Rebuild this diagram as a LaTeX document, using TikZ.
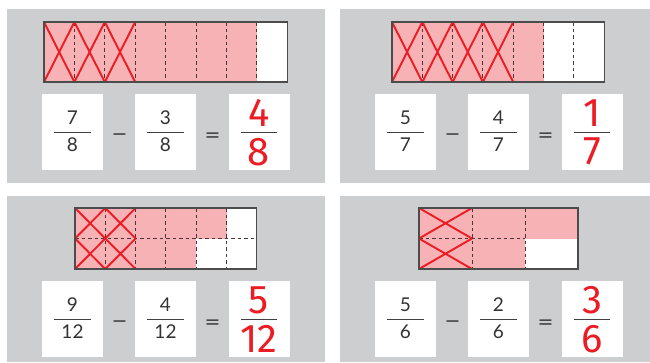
\documentclass[tikz,border=0pt]{standalone}
\usepackage{fontspec}
\setmainfont{Lato}
\newfontfamily\handfont{Fira Sans}
\newfontfamily\symfont{DejaVu Sans}
\usepackage{tikz}
\definecolor{panelgray}{HTML}{CDCED0}
\definecolor{shade}{HTML}{F7B2B5}
\definecolor{markred}{HTML}{EC1C24}
\definecolor{divline}{HTML}{4E3436}
\tikzset{
  panel/.style={fill=panelgray},
  card/.style={rectangle, fill=white, minimum width=61pt, minimum height=76pt, inner sep=0pt},
  bar/.style={fill=shade},
  divider/.style={draw=divline, line width=0.9pt, dash pattern=on 3.5pt off 3pt},
  cross/.style={draw=markred, line width=1.9pt},
  outline/.style={draw=black!70, line width=1.1pt},
  digit/.style={inner sep=0pt, font=\fontsize{19}{19}\selectfont, text=black!80},
  answer/.style={inner sep=0pt, font=\handfont\fontsize{40}{40}\selectfont, text=markred},
  fracline/.style={draw=black!75, line width=0.8pt},
  op/.style={inner sep=0pt, font=\symfont\fontsize{19}{19}\selectfont, text=black!75},
}

\begin{document}
\begin{tikzpicture}[x=1pt, y=-1pt]
\useasboundingbox (0,0) rectangle (650,362);
% ---- panels with the three cards ----
\foreach \px/\py/\pw/\ph/\na/\nb/\nc/\den [count=\i] in
  {7/9/318/174/7/3/4/8, 340/9/310/174/5/4/1/7, 7/196/318/166/9/4/5/12, 340/196/310/166/5/2/3/6}{
  \begin{scope}[shift={(\px,\py)}]
  \fill[panel] (0,0) rectangle (\pw,\ph);
  \node[card] (c\i-a) at (65.5,123) {};
  \node[card] (c\i-b) at (158.5,123) {};
  \node[card] (c\i-c) at (252,123) {};
  \node[op] (m\i) at (112.5,128) {−};
  \node[op] (e\i) at (205.5,128) {=};
  % first fraction
  \node[digit, anchor=south] (n\i-a) at ([yshift=7pt]c\i-a.center) {\na};
  \node[digit, anchor=north] (d\i-a) at ([yshift=-6pt]c\i-a.center) {\den};
  \draw[fracline] ([xshift=-18.5pt]c\i-a.center) -- ([xshift=18.5pt]c\i-a.center);
  % second fraction
  \node[digit, anchor=south] (n\i-b) at ([yshift=7pt]c\i-b.center) {\nb};
  \node[digit, anchor=north] (d\i-b) at ([yshift=-6pt]c\i-b.center) {\den};
  \draw[fracline] ([xshift=-18.5pt]c\i-b.center) -- ([xshift=18.5pt]c\i-b.center);
  % answer
  \node[answer, anchor=south] (n\i-c) at ([yshift=5pt]c\i-c.center) {\nc};
  \node[answer, anchor=north] (d\i-c) at ([yshift=-6pt]c\i-c.center) {\den};
  \draw[fracline] ([xshift=-18pt]c\i-c.center) -- ([xshift=18pt]c\i-c.center);
  \end{scope}
}
% ---- bar 1: eighths ----
\begin{scope}[shift={(44,22)}]
\def\w{30.4}
\fill[white] (0,0) rectangle (8*\w,60);
\fill[bar] (0,0) rectangle (7*\w,60);
\foreach \k in {1,...,7} \draw[divider] (\k*\w,0) -- (\k*\w,60);
\foreach \k in {0,1,2} \draw[cross] (\k*\w,0) -- ({(\k+1)*\w},60) ({(\k+1)*\w},0) -- (\k*\w,60);
\draw[outline] (0,0) rectangle (8*\w,60);
\end{scope}
% ---- bar 2: sevenths ----
\begin{scope}[shift={(392,22)}]
\def\w{30.3}
\fill[white] (0,0) rectangle (7*\w,60);
\fill[bar] (0,0) rectangle (5*\w,60);
\foreach \k in {1,...,6} \draw[divider] (\k*\w,0) -- (\k*\w,60);
\foreach \k in {0,...,3} \draw[cross] (\k*\w,0) -- ({(\k+1)*\w},60) ({(\k+1)*\w},0) -- (\k*\w,60);
\draw[outline] (0,0) rectangle (7*\w,60);
\end{scope}
% ---- bar 3: twelfths ----
\begin{scope}[shift={(75,208)}]
\def\w{30.3}
\def\h{30.5}
\fill[white] (0,0) rectangle (6*\w,2*\h);
\fill[bar] (0,0) rectangle (5*\w,\h);
\fill[bar] (0,\h) rectangle (4*\w,2*\h);
\foreach \k in {1,...,5} \draw[divider] (\k*\w,0) -- (\k*\w,2*\h);
\draw[divider] (0,\h) -- (6*\w,\h);
\foreach \k in {0,1} \foreach \r in {0,1}
  \draw[cross] (\k*\w,\r*\h) -- ({(\k+1)*\w},{(\r+1)*\h}) ({(\k+1)*\w},\r*\h) -- (\k*\w,{(\r+1)*\h});
\draw[outline] (0,0) rectangle (6*\w,2*\h);
\end{scope}
% ---- bar 4: sixths ----
\begin{scope}[shift={(419,208)}]
\def\w{53}
\def\h{30.5}
\fill[white] (0,0) rectangle (3*\w,2*\h);
\fill[bar] (0,0) rectangle (3*\w,\h);
\fill[bar] (0,\h) rectangle (2*\w,2*\h);
\foreach \k in {1,2} \draw[divider] (\k*\w,0) -- (\k*\w,2*\h);
\draw[divider] (0,\h) -- (2*\w,\h);
\foreach \r in {0,1}
  \draw[cross] (0,\r*\h) -- (\w,{(\r+1)*\h}) (\w,\r*\h) -- (0,{(\r+1)*\h});
\draw[outline] (0,0) rectangle (3*\w,2*\h);
\end{scope}
\end{tikzpicture}
\end{document}
